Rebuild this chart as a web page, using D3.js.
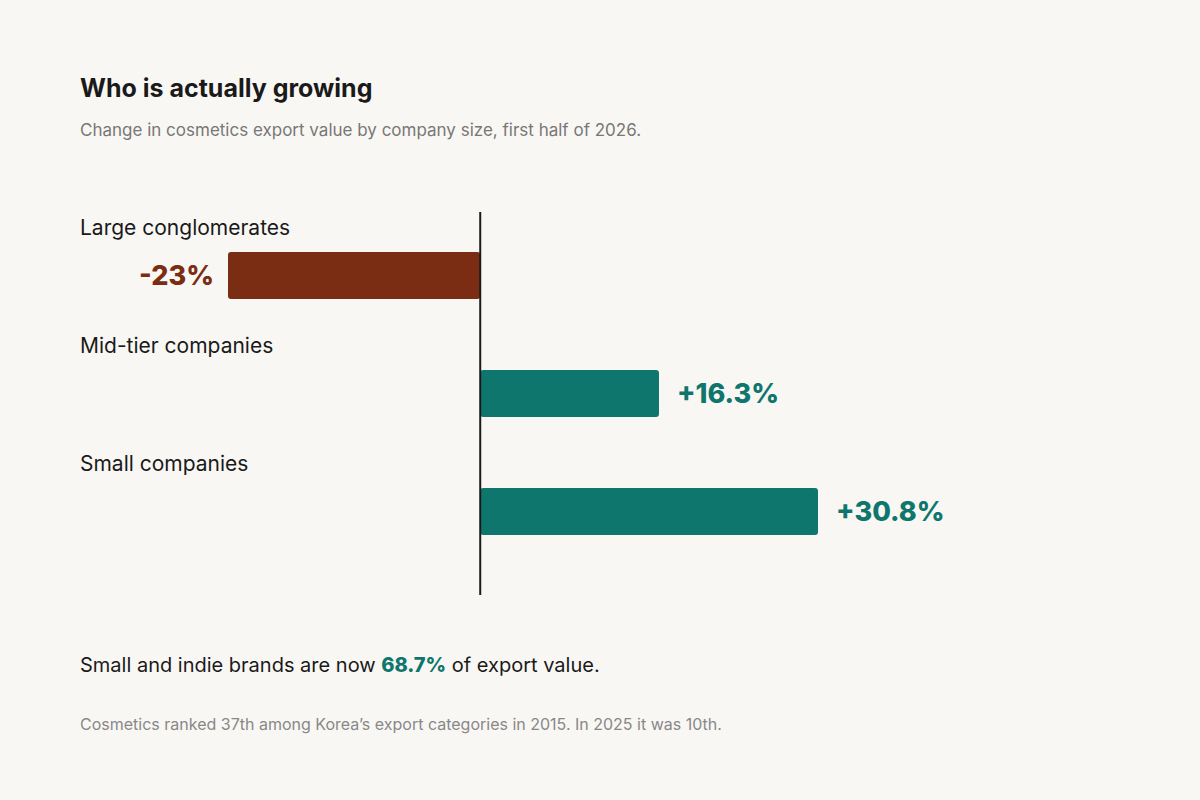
<!DOCTYPE html>
<html><head><meta charset="utf-8">
<script src="https://cdn.jsdelivr.net/npm/d3@7"></script>
<style>
body{margin:0;background:#f9f7f4;font-family:Inter,sans-serif;}
</style></head>
<body><div id="chart"></div>
<script>
var WIDTH = 1200, HEIGHT = 800;

var categories = ['Large conglomerates', 'Mid-tier companies', 'Small companies'];
var changes = [-23, 16.3, 30.8];
var valueLabels = ['-23%', '+16.3%', '+30.8%'];

var NEG = '#7a2d12', POS = '#0f766e';

var svg = d3.select('#chart').append('svg')
	.attr('width', WIDTH).attr('height', HEIGHT)
	.style('background', '#f9f7f4');

svg.append('text').attr('x', 80).attr('y', 97)
	.attr('font-size', 25).attr('font-weight', 700).attr('fill', '#1a1a1a')
	.text('Who is actually growing');
svg.append('text').attr('x', 80).attr('y', 136)
	.attr('font-size', 17).attr('fill', '#777')
	.text('Change in cosmetics export value by company size, first half of 2026.');

// 10.95 px per percentage point, zero at 480
var x = d3.scaleLinear().domain([-23, 30.8]).range([228, 818]);
var y = d3.scaleBand().domain(categories).range([212, 566]);
var barH = 47;

categories.forEach(function(c, i) {
	var top = y(c);
	svg.append('text').attr('x', 80).attr('y', top + 23)
		.attr('font-size', 21).attr('fill', '#1a1a1a').text(c);
	var v = changes[i];
	var col = v < 0 ? NEG : POS;
	svg.append('rect')
		.attr('x', x(Math.min(0, v))).attr('y', top + 40)
		.attr('width', Math.abs(x(v) - x(0))).attr('height', barH)
		.attr('rx', 3).attr('fill', col);
	svg.append('text')
		.attr('x', v < 0 ? x(v) - 14 : x(v) + 18)
		.attr('y', top + 40 + barH / 2 + 9)
		.attr('text-anchor', v < 0 ? 'end' : 'start')
		.attr('font-size', 27).attr('font-weight', 800).attr('fill', col)
		.text(valueLabels[i]);
});

svg.append('line').attr('x1', x(0)).attr('x2', x(0))
	.attr('y1', 212).attr('y2', 595)
	.attr('stroke', '#1a1a1a').attr('stroke-width', 2);

var note = svg.append('text').attr('x', 80).attr('y', 672)
	.attr('font-size', 20).attr('fill', '#1a1a1a');
note.append('tspan').text('Small and indie brands are now ');
note.append('tspan').attr('font-weight', 800).attr('fill', POS).text('68.7%');
note.append('tspan').text(' of export value.');

svg.append('text').attr('x', 80).attr('y', 730)
	.attr('font-size', 16).attr('fill', '#888')
	.text('Cosmetics ranked 37th among Korea\u2019s export categories in 2015. In 2025 it was 10th.');
</script></body></html>
